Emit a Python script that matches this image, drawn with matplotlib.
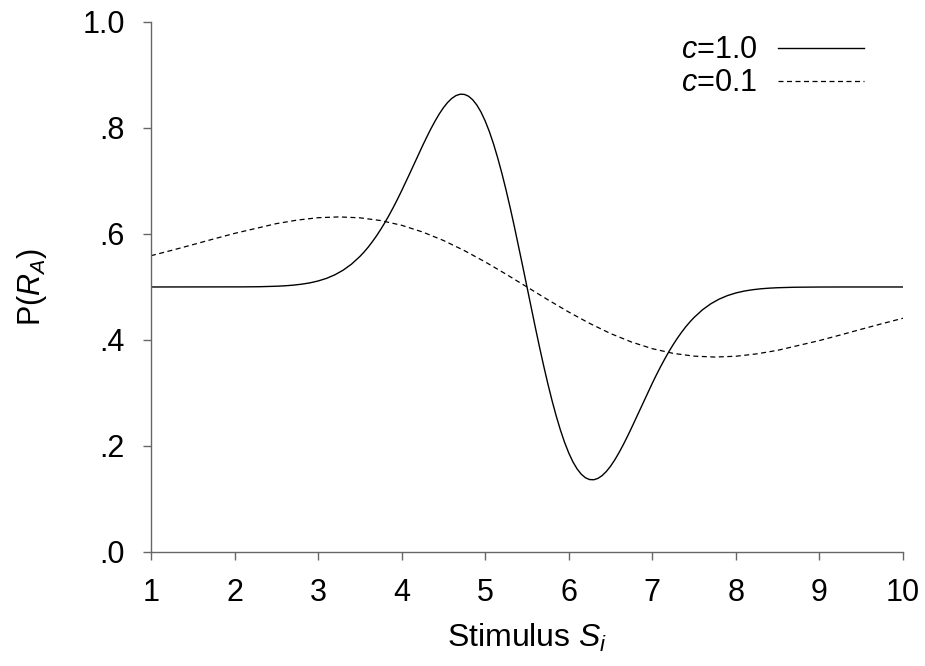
import numpy as np
import matplotlib
matplotlib.use('Agg')
import matplotlib.pyplot as plt

# 字体：Arial 风格
plt.rcParams['font.family'] = ['Liberation Sans', 'DejaVu Sans']
plt.rcParams['mathtext.fontset'] = 'custom'
plt.rcParams['mathtext.rm'] = 'Liberation Sans'
plt.rcParams['mathtext.it'] = 'Liberation Sans:italic'

# 数据：c=1.0 曲线（中段步长 0.05，两端步长 0.1）
x_solid = np.round(np.concatenate([
    np.arange(1.0, 3.45, 0.1),
    np.arange(3.5, 7.51, 0.05),
    np.arange(7.6, 10.01, 0.1),
]), 2)
y_solid = [
    # 1.0 - 3.4
    0.5, 0.5, 0.5, 0.5, 0.5, 0.5, 0.5, 0.5, 0.5, 0.5,
    0.5001, 0.5002, 0.5003, 0.5005, 0.5009, 0.5014, 0.5022, 0.5034, 0.5052, 0.5077,
    0.5113, 0.5162, 0.5229, 0.5317, 0.5431,
    # 3.50 - 5.45
    0.5575, 0.5659, 0.5752, 0.5855, 0.5966, 0.6087, 0.6216, 0.6355, 0.6501, 0.6655,
    0.6816, 0.6982, 0.7151, 0.7322, 0.7493, 0.7663, 0.7827, 0.7984, 0.8130, 0.8264,
    0.8382, 0.8481, 0.8558, 0.8611, 0.8637, 0.8634, 0.8600, 0.8533, 0.8433, 0.8300,
    0.8132, 0.7931, 0.7698, 0.7434, 0.7143, 0.6827, 0.6489, 0.6133, 0.5763, 0.5384,
    # 5.50
    0.5,
    # 5.55 - 7.50
    0.4616, 0.4237, 0.3867, 0.3511, 0.3173, 0.2857, 0.2566, 0.2302, 0.2069, 0.1868,
    0.1700, 0.1567, 0.1467, 0.1400, 0.1366, 0.1363, 0.1389, 0.1442, 0.1519, 0.1618,
    0.1736, 0.1870, 0.2016, 0.2173, 0.2337, 0.2507, 0.2678, 0.2849, 0.3018, 0.3184,
    0.3345, 0.3499, 0.3645, 0.3784, 0.3913, 0.4034, 0.4145, 0.4248, 0.4341, 0.4425,
    # 7.6 - 10.0
    0.4569, 0.4683, 0.4771, 0.4838, 0.4887, 0.4923, 0.4948, 0.4966, 0.4978, 0.4986,
    0.4991, 0.4995, 0.4997, 0.4998, 0.4999, 0.5, 0.5, 0.5, 0.5, 0.5,
    0.5, 0.5, 0.5, 0.5, 0.5,
]

# 数据：c=0.1 曲线（步长 0.25）
x_dash = np.arange(1.0, 10.01, 0.25)
y_dash = [
    0.5590, 0.5692, 0.5798, 0.5906, 0.6011, 0.6103, 0.6195, 0.6262,
    0.6307, 0.6322, 0.6305, 0.6253, 0.6164, 0.6038, 0.5878, 0.5687,
    0.5473, 0.5241, 0.5000, 0.4759, 0.4527, 0.4313, 0.4122, 0.3962,
    0.3836, 0.3747, 0.3695, 0.3678, 0.3693, 0.3738, 0.3805, 0.3897,
    0.3989, 0.4094, 0.4202, 0.4308, 0.4410,
]

x_ticks = [1, 2, 3, 4, 5, 6, 7, 8, 9, 10]
y_ticks = [0.0, 0.2, 0.4, 0.6, 0.8, 1.0]
y_tick_labels = ['.0', '.2', '.4', '.6', '.8', '1.0']

fig = plt.figure(figsize=(9.25, 6.66), dpi=100)
ax = fig.add_axes([0.1632, 0.1712, 0.8130, 0.7958])

ax.plot(x_solid, y_solid, color='black', lw=1.0, label=r'$\mathit{c}$=1.0')
ax.plot(x_dash, y_dash, color='black', lw=0.9, linestyle=(0, (4.0, 2.8)),
        label=r'$\mathit{c}$=0.1')

ax.set_xlim(1, 10)
ax.set_ylim(0, 1)
ax.set_xticks(x_ticks)
ax.set_yticks(y_ticks)
ax.set_yticklabels(y_tick_labels)

# 坐标轴样式
for side in ['top', 'right']:
    ax.spines[side].set_visible(False)
for side in ['left', 'bottom']:
    ax.spines[side].set_color('#666666')
    ax.spines[side].set_linewidth(1.0)
ax.tick_params(direction='out', length=5.8, width=1.0, color='#666666',
               labelsize=22, pad=13)

ax.set_xlabel(r'Stimulus $\mathit{S_i}$', fontsize=23, labelpad=10)
ax.set_ylabel(r'P($\mathit{R_A}$)', fontsize=22, labelpad=24)

leg = ax.legend(loc='upper right', bbox_to_anchor=(0.948, 0.975),
                frameon=False, markerfirst=False, fontsize=22,
                handlelength=2.8, handletextpad=0.7, labelspacing=0.1,
                borderpad=0, borderaxespad=0)

fig.savefig('out.png', dpi=100)
